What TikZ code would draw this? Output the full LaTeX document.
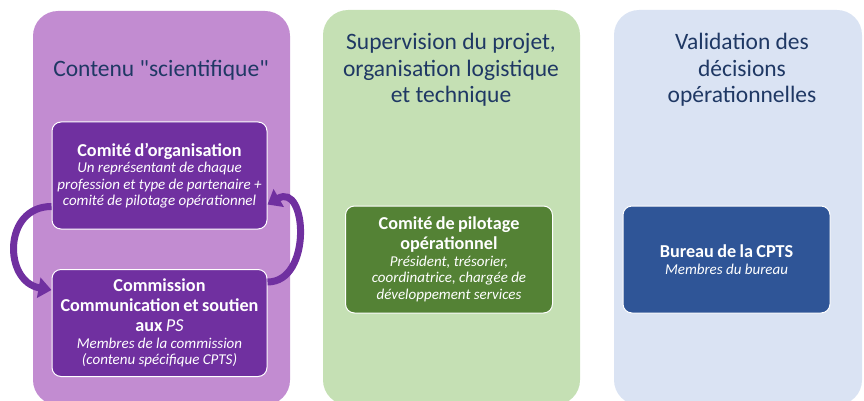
\documentclass[tikz,border=0pt]{standalone}
\usepackage{fontspec}
\setmainfont{Carlito}
\usetikzlibrary{arrows.meta}

\definecolor{sciPanel}{HTML}{C28CD1}
\definecolor{supvPanel}{HTML}{C5E0B4}
\definecolor{validPanel}{HTML}{DAE3F3}
\definecolor{sciBox}{HTML}{7030A0}
\definecolor{supvBox}{HTML}{548235}
\definecolor{validBox}{HTML}{2F5597}
\definecolor{titleBlue}{HTML}{1F3864}

\newcommand{\boxhead}[1]{{\fontsize{18.2}{20}\selectfont\bfseries #1\par}}
\newcommand{\boxnote}[1]{{\fontsize{15}{16.5}\selectfont\itshape #1\par}}
\newcommand{\dquote}{\XeTeXglyph\XeTeXcharglyph"22\relax}

\tikzset{
  paneltitle/.style={align=center, text=titleBlue, font=\fontsize{23.5}{26.5}\selectfont},
  innerbox/.style={draw=white, line width=1pt, rounded corners=9pt, text=white,
    minimum height=107pt, align=center, inner sep=0pt},
  cyclearrow/.style={draw=sciBox, line width=7pt, -{Triangle[width=20pt,length=13pt]}}
}

\begin{document}
\begin{tikzpicture}[x=1pt, y=-1pt]
    \useasboundingbox (0,0) rectangle (864,401);

    \fill[sciPanel, rounded corners=25pt] (33,11) rectangle (290,405);
    \fill[supvPanel, rounded corners=25pt] (323,10) rectangle (580,405);
    \fill[validPanel, rounded corners=25pt] (614,10) rectangle (862,405);

    \node (sciTitle) at (161,70) [paneltitle] {Contenu \dquote scientifique\dquote};
    \node (supvTitle) at (451,70) [paneltitle] {Supervision du projet,\\organisation logistique\\et technique};
    \node (validTitle) at (742,70) [paneltitle] {Validation des\\décisions\\opérationnelles};

    \node (orga) at (159.5,175.5) [innerbox, fill=sciBox, minimum width=215pt, text width=212pt]
        {\boxhead{Comité d’organisation}
         \boxnote{Un représentant de chaque\\profession et type de partenaire +\\comité de pilotage opérationnel}};
    \node (comm) at (159.5,323) [innerbox, fill=sciBox, minimum width=215pt, text width=212pt]
        {\boxhead{Commission\\Communication et soutien\\aux {\mdseries\itshape PS}}
         \boxnote{Membres de la commission\\(contenu spécifique CPTS)}};
    \node (copil) at (449,259.5) [innerbox, fill=supvBox, minimum width=207pt, text width=204pt]
        {\boxhead{Comité de pilotage\\opérationnel}
         \boxnote{Président, trésorier,\\coordinatrice, chargée de\\développement services}};
    \node (bureau) at (726.5,259.5) [innerbox, fill=validBox, minimum width=207pt, text width=204pt]
        {\boxhead{Bureau de la CPTS}
         \boxnote{Membres du bureau}};

    \draw[cyclearrow] ([yshift=-31pt]orga.west) to[out=180, in=170, looseness=1.5] ([yshift=33pt]comm.west);
    \draw[cyclearrow] ([yshift=41pt]comm.east) to[out=0, in=30, looseness=1.5] ([yshift=-29pt]orga.east);
\end{tikzpicture}
\end{document}
